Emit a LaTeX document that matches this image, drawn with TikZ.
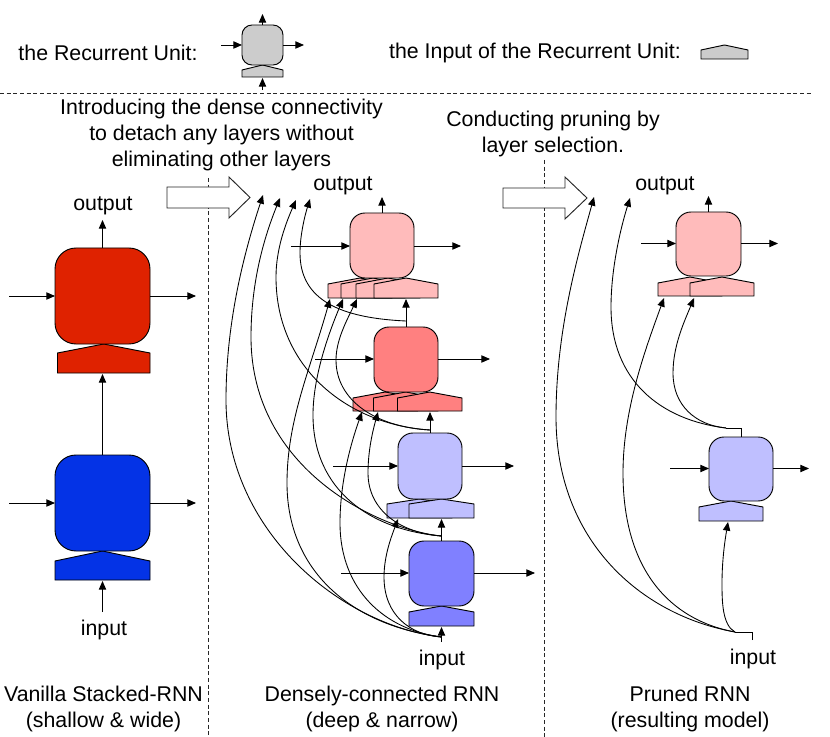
\documentclass[tikz,border=0pt]{standalone}
\usepackage{fontspec}
\setmainfont{Liberation Sans}
\usetikzlibrary{arrows.meta}
\definecolor{cgrey}{HTML}{CCCCCC}
\definecolor{cred}{HTML}{DF2200}
\definecolor{cblue}{HTML}{0433E6}
\definecolor{cpinka}{HTML}{FFBBBB}
\definecolor{cpinkb}{HTML}{FF8080}
\definecolor{cblua}{HTML}{BFBFFF}
\definecolor{cblub}{HTML}{8080FF}
\tikzset{
  x=0.75pt,y=-0.75pt,
  ubox/.style={rectangle,draw=black,line width=0.7pt,inner sep=0pt,outer sep=0pt},
  pent/.style={draw=black,line width=0.7pt,line join=miter},
  conn/.style={line width=0.65pt,draw=black,-{Triangle[length=6.5pt,width=5.5pt]}},
  tail/.style={line width=0.65pt,draw=black},
  sep/.style={line width=0.5pt,draw=black!85,dash pattern=on 3pt off 2pt},
  hollow/.style={draw=black!85,line width=0.7pt,fill=white},
  lab/.style={font=\fontsize{16}{19.5}\selectfont,align=center,inner sep=0pt,text=black},
}
% #1 name, #2 x1, #3 y1, #4 x2, #5 y2, #6 colour, #7 corner radius in px
\newcommand{\ubx}[7]{%
  \node[ubox,fill=#6,rounded corners={#7*0.75pt},minimum width={(#4-#2)*0.75pt},minimum height={(#5-#3)*0.75pt}]
    (#1) at ({(#2+#4)/2},{(#3+#5)/2}) {};}
% #1 x1, #2 x2, #3 apex y, #4 shoulder y, #5 bottom y, #6 colour
\newcommand{\pnt}[6]{%
  \draw[pent,fill=#6] (#1,#5) -- (#1,#4) -- ({(#1+#2)/2},#3) -- (#2,#4) -- (#2,#5) -- cycle;}
\begin{document}
\begin{tikzpicture}
\useasboundingbox (0,0) rectangle (830,737);
% separators
\coordinate (h1) at (0,93); \coordinate (h2) at (811,93);
\draw[sep] (h1) -- (h2);
\coordinate (v1a) at (208,178); \coordinate (v1b) at (208,737);
\draw[sep] (v1a) -- (v1b);
\coordinate (v2a) at (544,160); \coordinate (v2b) at (544,737);
\draw[sep] (v2a) -- (v2b);
% legend
\node[lab] (legA) at (108,53) {the Recurrent Unit:};
\node[lab] (legB) at (535,53) {the Input of the Recurrent Unit:};
\pnt{242}{283}{65}{70}{77}{cgrey}
\ubx{lg}{242}{25}{283}{65}{cgrey}{10}
\coordinate (lgup) at (262.5,14); \coordinate (lgl) at (221,45); \coordinate (lgr) at (304,45);
\coordinate (lgb) at (262.5,90); \coordinate (lgbe) at (262.5,78);
\draw[conn] (lg.north) -- (lgup);
\draw[conn] (lgl) -- (lg.west);
\draw[conn] (lg.east) -- (lgr);
\draw[conn] (lgb) -- (lgbe);
\pnt{701}{748}{45}{50}{59}{cgrey}
% left column
\pnt{57.5}{150}{344}{353}{373}{cred}
\ubx{ra}{55}{248}{150}{344}{cred}{21}
\pnt{55}{150}{551}{561}{580}{cblue}
\ubx{ba}{55}{455}{150}{551}{cblue}{21}
\node[lab] (outL) at (103,206) {output};
\node[lab] (inL) at (104,630) {input};
\coordinate (raup) at (102.5,220); \coordinate (ral) at (9,296); \coordinate (rar) at (196,296);
\coordinate (bal) at (9,503); \coordinate (bar) at (196,503);
\coordinate (rap) at (102.5,374); \coordinate (bap) at (102.5,581); \coordinate (bin) at (102.5,612);
\draw[conn] (ra.north) -- (raup);
\draw[conn] (ral) -- (ral-|ra.west);
\draw[conn] (ra.east) -- (ra.east-|rar);
\draw[conn] (ba.north) -- (rap);
\draw[conn] (bal) -- (bal-|ba.west);
\draw[conn] (ba.east) -- (ba.east-|bar);
\draw[conn] (bin) -- (bap);
% hollow arrows
\draw[hollow] (167,187) -- (229,187) -- (229,177) -- (250,197.5) -- (229,218) -- (229,208) -- (167,208) -- cycle;
\draw[hollow] (503,188) -- (565,188) -- (565,177) -- (587,198) -- (565,219) -- (565,208) -- (503,208) -- cycle;
% header texts
\node[lab] (tA) at (221.5,135) {Introducing the dense connectivity\\to detach any layers without\\eliminating other layers};
\node[lab] (tB) at (553,134) {Conducting pruning by\\layer selection.};
\node[lab] (cA) at (103.5,709) {Vanilla Stacked-RNN\\(shallow \& wide)};
\node[lab] (cB) at (382,709) {Densely-connected RNN\\(deep \& narrow)};
\node[lab] (cC) at (690,709) {Pruned RNN\\(resulting model)};
\node[lab] (outM) at (343,186) {output};
\node[lab] (inM) at (442,660) {input};
\node[lab] (outR) at (665,186) {output};
\node[lab] (inR) at (753,659) {input};
% middle column: pentagons and boxes
\pnt{328}{392}{278}{284}{298}{cpinka}
\pnt{341}{405}{278}{284}{298}{cpinka}
\pnt{356}{420}{278}{284}{298}{cpinka}
\pnt{374}{438}{278}{284}{298}{cpinka}
\ubx{ma}{350}{213}{414}{278}{cpinka}{15}
\pnt{353}{417.5}{392}{398}{411}{cpinkb}
\pnt{373.5}{438}{392}{398}{411}{cpinkb}
\pnt{397.5}{462}{392}{398}{411}{cpinkb}
\ubx{mb}{374}{327}{438}{392}{cpinkb}{15}
\pnt{387}{452}{499}{504}{518}{cblua}
\pnt{409}{474}{499}{504}{518}{cblua}
\ubx{mc}{398}{433}{462}{499}{cblua}{15}
\pnt{409}{474}{606}{612}{626}{cblub}
\ubx{md}{409}{541}{474}{606}{cblub}{15}
% middle straight arrows
\coordinate (maup) at (382,197); \coordinate (mal) at (291,246); \coordinate (mar) at (461,246);
\coordinate (mbl) at (315,359); \coordinate (mbr) at (490,359);
\coordinate (mcl) at (333,466); \coordinate (mcr) at (514,466);
\coordinate (mdl) at (341,573); \coordinate (mdr) at (535,573);
\coordinate (mbp) at (406,299); \coordinate (mcp) at (430,412); \coordinate (mdp) at (441.5,519);
\coordinate (minp) at (441.5,627); \coordinate (jin) at (441.5,637); \coordinate (jintail) at (441.5,642);
\coordinate (jd) at (441.5,536); \coordinate (jc) at (430,430); \coordinate (jb) at (406,321);
\draw[conn] (ma.north) -- (maup);
\draw[conn] (mal) -- (mal-|ma.west);
\draw[conn] (mal-|ma.east) -- (mar);
\draw[conn] (mb.north-|mbp) -- (mbp);
\draw[conn] (mbl) -- (mbl-|mb.west);
\draw[conn] (mbl-|mb.east) -- (mbr);
\draw[conn] (mc.north) -- (mcp);
\draw[conn] (mcl) -- (mcl-|mc.west);
\draw[conn] (mcl-|mc.east) -- (mcr);
\draw[conn] (md.north-|mdp) -- (mdp);
\draw[conn] (mdl) -- (mdl-|md.west);
\draw[conn] (mdl-|md.east) -- (mdr);
\draw[conn] (jintail) -- (minp);
% middle curved connectors
\coordinate (o1) at (263,195); \coordinate (o2) at (280,198); \coordinate (o3) at (296,200); \coordinate (o4) at (310,199);
\coordinate (p1) at (330,299); \coordinate (p2) at (343,299); \coordinate (p3) at (357,299);
\coordinate (q1) at (362,412); \coordinate (q2) at (378,412); \coordinate (r1) at (398,519);
\draw[conn] (jin) .. controls (340,625) and (226,530) .. (226,400) .. controls (226,320) and (245,250) .. (o1);
\draw[conn] (jd) .. controls (380,530) and (251,470) .. (251,337) .. controls (251,280) and (265,235) .. (o2);
\draw[conn] (jc) .. controls (350,425) and (276,370) .. (276,277) .. controls (276,250) and (285,225) .. (o3);
\draw[conn] (jb) .. controls (340,318) and (300,300) .. (300,253) .. controls (300,235) and (305,215) .. (o4);
\draw[conn] (jin) .. controls (350,625) and (287,570) .. (287,483) .. controls (287,420) and (310,370) .. (p1);
\draw[conn] (jd) .. controls (370,530) and (313,490) .. (313,415) .. controls (313,375) and (330,330) .. (p2);
\draw[conn] (jc) .. controls (375,427) and (336,400) .. (336,360) .. controls (336,340) and (347,320) .. (p3);
\draw[conn] (jin) .. controls (385,630) and (340,590) .. (340,523) .. controls (340,480) and (352,440) .. (q1);
\draw[conn] (jd) .. controls (400,533) and (368,510) .. (368,473) .. controls (368,450) and (373,430) .. (q2);
\draw[conn] (jin) .. controls (410,635) and (384,615) .. (384,577) .. controls (384,555) and (392,535) .. (r1);
% right column
\pnt{658}{722}{277}{283}{296}{cpinka}
\pnt{690}{754}{277}{283}{296}{cpinka}
\ubx{ra2}{676}{212}{741}{276}{cpinka}{15}
\pnt{699}{763}{501}{507}{521}{cblua}
\ubx{rb}{709}{437}{773}{501}{cblua}{15}
\coordinate (rup) at (708.5,196); \coordinate (rl) at (641,243.5); \coordinate (rr) at (778,243.5);
\coordinate (rbl) at (670,468.5); \coordinate (rbr) at (809,468.5);
\coordinate (jr) at (741,428); \coordinate (jri) at (752,632); \coordinate (jrt) at (752,640);
\coordinate (jra) at (735,632); \coordinate (jrb) at (726,428);
\coordinate (rah) at (594,197); \coordinate (rbh) at (630,198); \coordinate (rc) at (664,298); \coordinate (rd) at (694,298); \coordinate (re) at (728,522);
\draw[conn] (ra2.north) -- (rup);
\draw[conn] (rl) -- (rl-|ra2.west);
\draw[conn] (rl-|ra2.east) -- (rr);
\draw[conn] (rbl) -- (rbl-|rb.west);
\draw[conn] (rbl-|rb.east) -- (rbr);
\draw[tail] (rb.north-|jr) -- (jr) -- (jrb);
\draw[tail] (jrt) -- (jri) -- (jra);
\draw[conn] (jra) .. controls (640,615) and (556,540) .. (556,417) .. controls (556,330) and (578,255) .. (rah);
\draw[conn] (jra) .. controls (670,620) and (623,570) .. (623,473) .. controls (623,410) and (645,350) .. (rc);
\draw[conn] (jra) .. controls (722,625) and (722,600) .. (722,583) .. controls (722,560) and (725,540) .. (re);
\draw[conn] (jrb) .. controls (660,420) and (611,380) .. (611,307) .. controls (611,270) and (620,230) .. (rbh);
\draw[conn] (jrb) .. controls (695,425) and (673,405) .. (673,373) .. controls (673,345) and (685,320) .. (rd);
\end{tikzpicture}
\end{document}
